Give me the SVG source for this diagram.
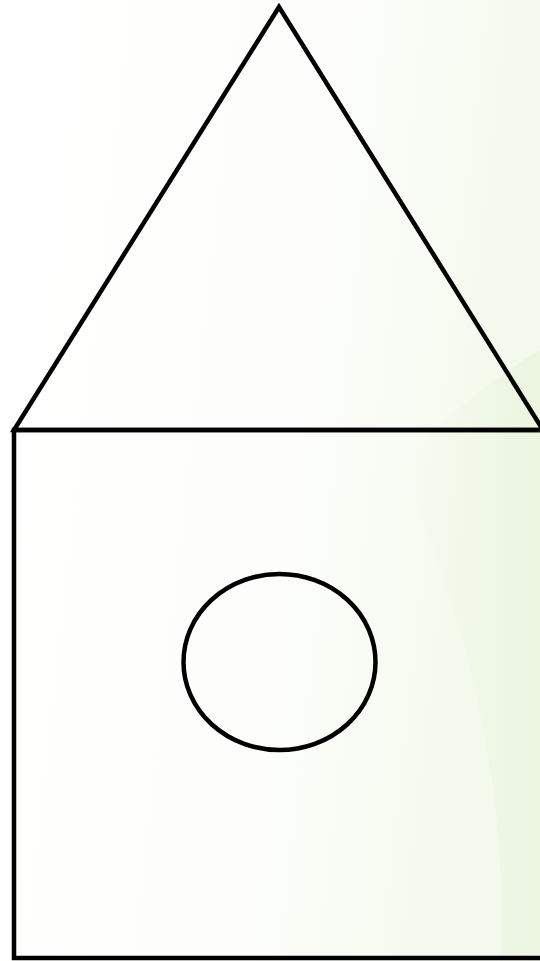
<svg xmlns="http://www.w3.org/2000/svg" width="540" height="961" viewBox="0 0 540 961">
<defs>
<linearGradient id="bg" x1="0" y1="0" x2="1" y2="0.2">
<stop offset="0" stop-color="#ffffff"/>
<stop offset="0.6" stop-color="#fdfefb"/>
<stop offset="1" stop-color="#f3f9ec"/>
</linearGradient>
<linearGradient id="wave" x1="0" y1="0" x2="1" y2="0">
<stop offset="0" stop-color="#e6f2d6" stop-opacity="0"/>
<stop offset="1" stop-color="#dcedc8" stop-opacity="0.8"/>
</linearGradient>
<style>.s{fill:none;stroke:#000;stroke-width:4.5;stroke-linejoin:miter}</style>
</defs>
<rect width="540" height="961" fill="url(#bg)"/>
<path d="M400,470 C440,420 490,380 540,350 L540,961 L500,961 C510,800 470,620 400,470 Z" fill="url(#wave)" opacity="0.45"/>
<g id="roof"><polygon class="s" points="279,7 14,430 543,430"/></g>
<g id="wall"><rect class="s" x="14" y="430" width="529" height="528"/></g>
<g id="window"><ellipse class="s" cx="279.5" cy="662" rx="96" ry="88"/></g>
<g id="connectors"/>
</svg>
